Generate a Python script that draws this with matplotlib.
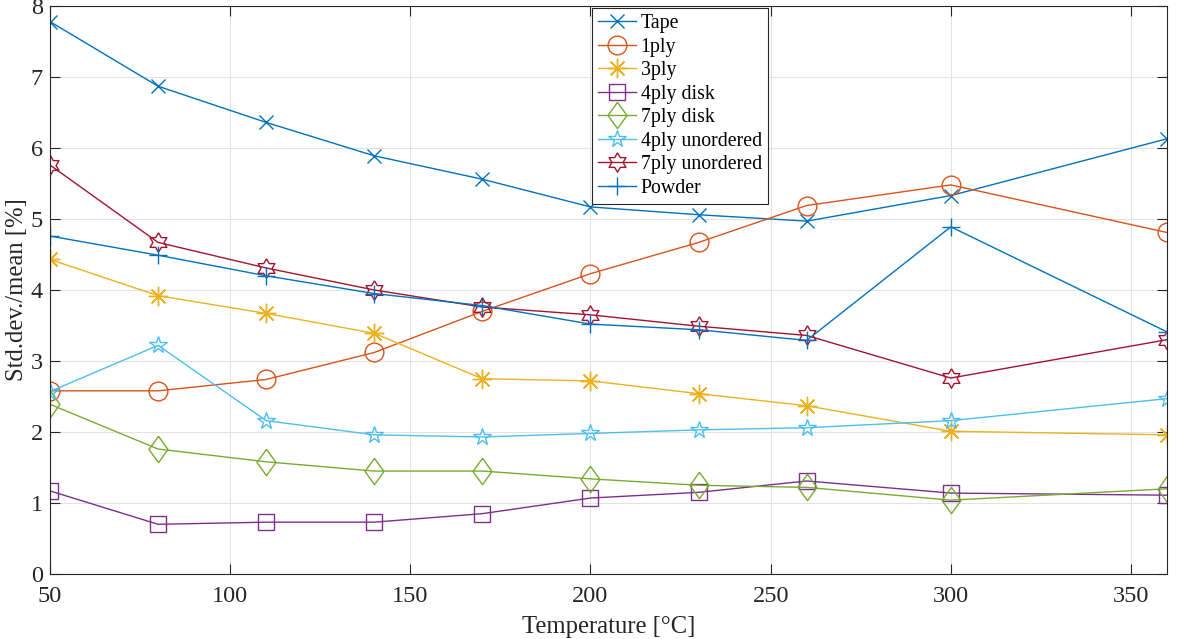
import matplotlib
matplotlib.use("Agg")
import matplotlib.pyplot as plt
import numpy as np

plt.rcParams['font.family'] = ['Liberation Serif', 'DejaVu Serif']
plt.rcParams['mathtext.fontset'] = 'stix'

temps = [50, 80, 110, 140, 170, 200, 230, 260, 300, 360]
tape = [7.78, 6.87, 6.36, 5.89, 5.56, 5.17, 5.06, 4.97, 5.33, 6.13]
ply1 = [2.58, 2.58, 2.74, 3.12, 3.70, 4.23, 4.67, 5.19, 5.48, 4.81]
ply3 = [4.43, 3.92, 3.67, 3.39, 2.75, 2.72, 2.54, 2.37, 2.01, 1.96]
ply4_disk = [1.17, 0.70, 0.73, 0.73, 0.85, 1.07, 1.15, 1.31, 1.14, 1.11]
ply7_disk = [2.39, 1.76, 1.58, 1.45, 1.45, 1.34, 1.25, 1.22, 1.04, 1.20]
ply4_unord = [2.57, 3.22, 2.16, 1.96, 1.93, 1.98, 2.03, 2.06, 2.16, 2.47]
ply7_unord = [5.76, 4.67, 4.31, 4.00, 3.76, 3.65, 3.49, 3.36, 2.76, 3.30]
powder = [4.76, 4.49, 4.20, 3.95, 3.78, 3.52, 3.44, 3.29, 4.89, 3.41]

# MATLAB-like marker shapes
diamond = [(0, 1), (0.72, 0), (0, -1), (-0.72, 0), (0, 1)]
ang = np.deg2rad(90 + np.arange(12) * 30)
rad = np.where(np.arange(12) % 2 == 0, 1.0, 0.577)
hexagram = list(zip(rad * np.cos(ang), rad * np.sin(ang)))
hexagram.append(hexagram[0])

series = [
    ("Tape", tape, '#0072BD', 'x', 10),
    ("1ply", ply1, '#D95319', 'o', 13.5),
    ("3ply", ply3, '#EDB120', (8, 2, 0), 14),
    ("4ply disk", ply4_disk, '#7E2F8E', 's', 11),
    ("7ply disk", ply7_disk, '#77AC30', diamond, 19),
    ("4ply unordered", ply4_unord, '#4DBEEE', '*', 13),
    ("7ply unordered", ply7_unord, '#A2142F', hexagram, 14),
    ("Powder", powder, '#0072BD', '+', 13),
]

fig = plt.figure(figsize=(11.77, 6.39), dpi=100)
ax = fig.add_axes([50/1177, 1-574/639, (1167-50)/1177, (574-6)/639])

for name, vals, col, mk, ms in series:
    ax.plot(temps, vals, color=col, marker=mk, markersize=ms, markerfacecolor='none',
            markeredgecolor=col, markeredgewidth=1.0, linewidth=1.0, label=name)

ax.set_xlim(50, 360)
ax.set_ylim(0, 8)
ax.set_xticks([50, 100, 150, 200, 250, 300, 350])
ax.set_yticks(range(0, 9))
ax.grid(True, color='#e3e3e3', linewidth=0.8)
ax.set_axisbelow(True)
ax.tick_params(direction='in', top=True, right=True, labelsize=17.5, length=7.5, width=0.8,
               color='#262626', labelcolor='#262626')
ax.tick_params(axis='x', pad=9)
ax.tick_params(axis='y', pad=5)
for s in ax.spines.values():
    s.set_linewidth(0.8)
    s.set_color('#262626')
ax.set_xlabel("Temperature [°C]", fontsize=17.7, labelpad=6, color='#262626')
ax.set_ylabel("Std.dev./mean [%]", fontsize=17.7, labelpad=2, color='#262626')

leg = ax.legend(loc='upper center', bbox_to_anchor=(0.564, 1.0), fontsize=14.3, frameon=True,
                fancybox=False, edgecolor='#262626', framealpha=1, borderpad=0.3,
                labelspacing=0.23, handlelength=1.9, handletextpad=0.25, borderaxespad=0.1)
leg.get_frame().set_linewidth(0.8)
for t in leg.get_texts():
    t.set_color('#000000')

fig.savefig("out.png", dpi=100)
